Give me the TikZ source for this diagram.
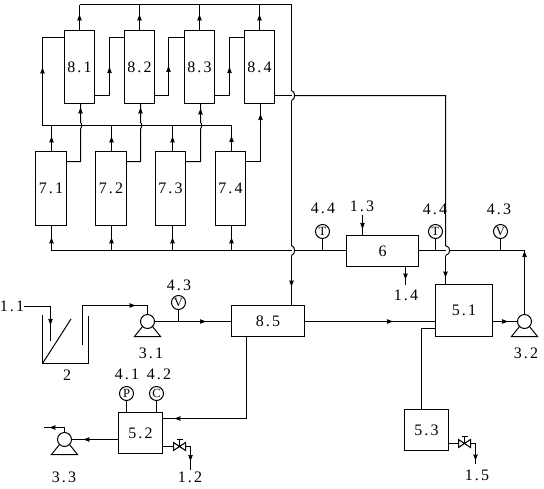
\documentclass[tikz,border=0pt]{standalone}
\usepackage{fontspec}
\setmainfont{Liberation Serif}
\usetikzlibrary{arrows.meta,decorations.markings}
\tikzset{
  x=1pt,y=-1pt,
  line/.style={line width=1pt,black},
  mk/.style={postaction={decorate},decoration={markings,mark=at position #1pt with {\arrow{Stealth[length=6pt,width=4.5pt,inset=0.5pt]}}}},
  unit/.style={draw,line width=1pt,inner sep=0pt,fill=none,font=\lab},
  tall7/.style={unit,minimum height=74pt},
  tall8/.style={unit,minimum width=30pt,minimum height=73pt},
  gauge/.style={draw,circle,line width=1pt,minimum size=14pt,inner sep=0pt,font=\fontsize{12.5}{12.5}\selectfont},
  pumpc/.style={draw,circle,line width=1pt,minimum size=14pt,inner sep=0pt},
  lbl/.style={inner sep=0pt,font=\lab},
}
\newcommand{\lab}{\fontsize{16}{16}\selectfont\addfontfeature{LetterSpace=14}}
\newcommand{\pumpat}[3]{%
  \node[pumpc] (#1) at (#2,#3) {};
  \draw[line] (#2-5,#3+5) -- (#2-13,#3+15) -- (#2+13,#3+15) -- (#2+5,#3+5);}
\newcommand{\valveat}[3]{%
  \coordinate (#1) at (#2,#3);
  \coordinate (#1w) at (#2-6,#3);
  \coordinate (#1e) at (#2+6,#3);
  \draw[line] (#2-6,#3-4) -- (#2+6,#3+4) -- (#2+6,#3-4) -- (#2-6,#3+4) -- cycle;
  \draw[line] (#2,#3) -- (#2,#3-7) (#2-3,#3-7) -- (#2+3,#3-7);}
\begin{document}
\begin{tikzpicture}
\useasboundingbox (0,0) rectangle (544,488);
% vessels
\node[tall8] (b81) at (79.5,67) {8.1};
\node[tall8] (b82) at (139.5,67) {8.2};
\node[tall8] (b83) at (199.5,67) {8.3};
\node[tall8] (b84) at (259.5,67) {8.4};
\node[tall7,minimum width=31pt] (b71) at (51,188.5) {7.1};
\node[tall7,minimum width=31pt] (b72) at (111,188.5) {7.2};
\node[tall7,minimum width=30pt] (b73) at (170.5,188.5) {7.3};
\node[tall7,minimum width=30pt] (b74) at (230.5,188.5) {7.4};
\node[unit,minimum width=72pt,minimum height=31pt] (b6) at (382.5,251) {6};
\node[unit,minimum width=73pt,minimum height=31pt] (b85) at (268,321) {8.5};
\node[unit,minimum width=57pt,minimum height=52pt] (b51) at (464,310.5) {5.1};
\node[unit,minimum width=44pt,minimum height=41pt] (b52) at (140.5,433) {5.2};
\node[unit,minimum width=44pt,minimum height=41pt] (b53) at (426.5,430) {5.3};
% pumps and valves
\pumpat{p31}{147.5}{321.5}
\pumpat{p32}{524.5}{321.5}
\pumpat{p33}{64.5}{439.5}
\valveat{v52}{179.5}{446.5}
\valveat{v53}{464.5}{443.5}
% gauges
\node[gauge] (g44a) at (322.5,231.5) {T};
\node[gauge] (g44b) at (435.5,231.5) {T};
\node[gauge] (g43a) at (500.5,231.5) {V};
\node[gauge] (g43b) at (178.5,302.5) {V};
\node[gauge] (g41) at (126.5,393.5) {P};
\node[gauge] (g42) at (156.5,393.5) {C};
% labels
\node[lbl] (t44a) at (323,208) {4.4};
\node[lbl] (t13) at (362,206) {1.3};
\node[lbl] (t44b) at (435,209) {4.4};
\node[lbl] (t43a) at (499,209) {4.3};
\node[lbl] (t14) at (406,295) {1.4};
\node[lbl] (t43b) at (179,285) {4.3};
\node[lbl] (t11) at (12,306) {1.1};
\node[lbl] (t2) at (67,375) {2};
\node[lbl] (t31) at (151,353) {3.1};
\node[lbl] (t41) at (127,374) {4.1};
\node[lbl] (t42) at (159,374) {4.2};
\node[lbl] (t33) at (64,477) {3.3};
\node[lbl] (t12) at (190,477) {1.2};
\node[lbl] (t32) at (526,353) {3.2};
\node[lbl] (t15) at (477,475) {1.5};
% routing levels
\coordinate (top) at (291.5,4.5);
\coordinate (man) at (231.5,125.5);
\coordinate (feed) at (51.5,250.5);
\coordinate (s37) at (0,37.5);
\coordinate (s95) at (0,95.5);
\coordinate (s161) at (0,161.5);
\coordinate (s250) at (0,250.5);
\coordinate (s321) at (0,321.5);
\coordinate (s328) at (0,328.5);
\coordinate (s418) at (0,418.5);
\coordinate (x445) at (445.5,0);
\coordinate (x421) at (421.5,0);
\coordinate (x80) at (80.5,0);
% top collector and 8.x outlets
\draw[line] (b81.north |- top) -- (top) -- (291.5,90.5);
\draw[line] (291.5,100.5) -- (291.5,245.5);
\draw[line] (291.5,245.5) .. controls (294.5,247.5) and (294.5,248.5) .. (294.5,250.5) .. controls (294.5,252.5) and (294.5,253.5) .. (291.5,255.5);
\draw[line,mk=31] (291.5,255.5) -- (b85.north -| top);
\draw[line,mk=15.5] (b81.north) -- (b81.north |- top);
\draw[line,mk=15.5] (b82.north) -- (b82.north |- top);
\draw[line,mk=15.5] (b83.north) -- (b83.north |- top);
\draw[line,mk=15.5] (b84.north) -- (b84.north |- top);
\draw[line] (291.5,90.5) .. controls (294.5,92.5) and (294.5,93.5) .. (294.5,95.5) .. controls (294.5,97.5) and (294.5,98.5) .. (291.5,100.5);
% left riser and series links
\draw[line,mk=58] (42.5,125.5) -- (42.5,37.5) -- (b81.west |- s37);
\draw[line,mk=43] (b81.east |- s95) -- (109.5,95.5) -- (109.5,37.5) -- (b82.west |- s37);
\draw[line,mk=43] (b82.east |- s95) -- (168.5,95.5) -- (168.5,37.5) -- (b83.west |- s37);
\draw[line,mk=43] (b83.east |- s95) -- (229.5,95.5) -- (229.5,37.5) -- (b84.west |- s37);
% manifold
\draw[line] (man) -- (42.5,125.5);
\draw[line,mk=15] (51.5,151.5) -- (51.5,125.5);
\draw[line,mk=15] (111.5,151.5) -- (111.5,125.5);
\draw[line,mk=15] (172.5,151.5) -- (172.5,125.5);
\draw[line,mk=15] (b74.north -| man) -- (man);
% 7.x to 8.x
\draw[line,mk=68] (b71.east |- s161) -- (80.5,161.5) -- (80.5,129) .. controls (82,127.5) and (82,123.5) .. (80.5,122) -- (b81.south -| x80);
\draw[line,mk=68] (b72.east |- s161) -- (140.5,161.5) -- (140.5,129) .. controls (142,127.5) and (142,123.5) .. (140.5,122) -- (140.5,103.5);
\draw[line,mk=68] (b73.east |- s161) -- (200.5,161.5) -- (200.5,129) .. controls (202,127.5) and (202,123.5) .. (200.5,122) -- (200.5,103.5);
\draw[line,mk=62] (b74.east |- s161) -- (260.5,161.5) -- (260.5,103.5);
% feed line to 7.x
\draw[line] (b6.west |- s250) -- (294.5,250.5);
\draw[line] (291.5,250.5) -- (feed);
\draw[line,mk=13] (feed) -- (b71.south -| feed);
\draw[line,mk=13] (111.5,250.5) -- (111.5,225.5);
\draw[line,mk=13] (172.5,250.5) -- (172.5,225.5);
\draw[line,mk=13] (231.5,250.5) -- (231.5,225.5);
% 8.4 to 5.1
\draw[line] (b84.east |- s95) -- (291.5,95.5);
\draw[line] (294.5,95.5) -- (445.5,95.5) -- (445.5,245.5) .. controls (449.5,247.5) and (449.5,248.5) .. (449.5,250.5) .. controls (449.5,252.5) and (449.5,253.5) .. (445.5,255.5);
\draw[line,mk=22] (445.5,255.5) -- (b51.north -| x445);
% 3.2 return to 6
\draw[line,mk=63] (p32.north) -- (524.5,250.5) -- (449.5,250.5);
\draw[line] (445.5,250.5) -- (b6.east |- s250);
\draw[line,mk=14] (362.5,215) -- (362.5,235.5);
\draw[line,mk=13] (405.5,266.5) -- (405.5,285);
% gauge stems
\draw[line] (g44a.south) -- (322.5,250.5);
\draw[line] (g44b.south) -- (435.5,250.5);
\draw[line] (g43a.south) -- (500.5,250.5);
\draw[line] (g43b.south) -- (178.5,321.5);
\draw[line] (g41.south) -- (126.5,412.5);
\draw[line] (g42.south) -- (156.5,412.5);
% tank
\draw[line] (42.5,315) -- (42.5,363.5) -- (88.5,363.5) -- (88.5,316);
\draw[line] (42.5,363.5) -- (71,319);
\draw[line,mk=45] (24,306.5) -- (50.5,306.5) -- (50.5,341);
\draw[line,mk=92.5] (82.5,345) -- (82.5,305.5) -- (147.5,305.5) -- (p31.north);
% main process line
\draw[line,mk=51] (p31.east) -- (b85.west |- s321);
\draw[line,mk=88] (b85.east |- s321) -- (b51.west |- s321);
\draw[line,mk=15] (b51.east |- s321) -- (p32.west);
\draw[line,mk=154] (246.5,336.5) -- (246.5,418.5) -- (b52.east |- s418);
% 5.2 outlets
\draw[line,mk=34.5] (b52.west |- p33) -- (p33.east);
\draw[line,mk=19.5] (p33.north) -- (64.5,427.5) -- (44,427.5);
\draw[line] (b52.east |- v52) -- (v52w);
\draw[line,mk=19.5] (v52e) -- (190.5,446.5) -- (190.5,470);
% 5.1 to 5.3
\draw[line] (b53.north -| x421) -- (421.5,328.5) -- (b51.west |- s328);
\draw[line] (b53.east |- v53) -- (v53w);
\draw[line,mk=22] (v53e) -- (475.5,443.5) -- (475.5,464);
\end{tikzpicture}
\end{document}
